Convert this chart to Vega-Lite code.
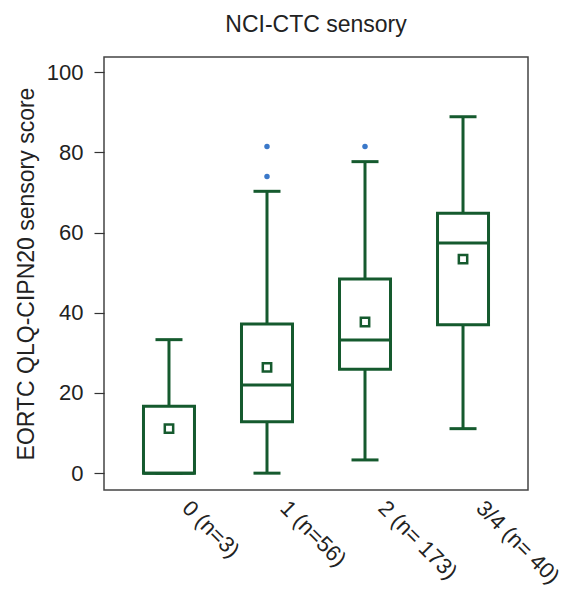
{
  "$schema": "https://vega.github.io/schema/vega-lite/v6.json",
  "autosize": {"type": "none"},
  "width": 424,
  "height": 433,
  "padding": {"left": 104, "top": 57, "right": 37, "bottom": 103},
  "title": {"text": "NCI-CTC sensory", "font": "Liberation Sans", "fontSize": 23, "fontWeight": "normal", "color": "#222", "anchor": "middle", "offset": 20},
  "config": {
    "view": {"stroke": "#444", "strokeWidth": 1.5},
    "font": "Liberation Sans"
  },
  "datasets": {
    "stats": [
      {"group": "0 (n=3)", "lower": 0, "q1": 0, "median": 0, "q3": 16.7, "upper": 33.3, "mean": 11.1},
      {"group": "1 (n=56)", "lower": 0, "q1": 12.8, "median": 22.0, "q3": 37.2, "upper": 70.3, "mean": 26.4},
      {"group": "2 (n= 173)", "lower": 3.3, "q1": 25.9, "median": 33.2, "q3": 48.4, "upper": 77.7, "mean": 37.7},
      {"group": "3/4 (n= 40)", "lower": 11.1, "q1": 37.0, "median": 57.4, "q3": 64.8, "upper": 88.9, "mean": 53.4}
    ],
    "outliers": [
      {"group": "1 (n=56)", "value": 81.5},
      {"group": "1 (n=56)", "value": 74.0},
      {"group": "2 (n= 173)", "value": 81.5}
    ]
  },
  "encoding": {
    "x": {
      "field": "group", "type": "nominal", "sort": null,
      "scale": {"type": "band", "paddingInner": 0, "paddingOuter": 0.163, "domain": ["0 (n=3)", "1 (n=56)", "2 (n= 173)", "3/4 (n= 40)"]},
      "axis": {"title": null, "domain": false, "ticks": false, "labelAngle": 45, "labelAlign": "left", "labelBaseline": "middle", "labelFontSize": 22, "labelColor": "#222", "labelPadding": 14, "labelOffset": 17}
    }
  },
  "layer": [
    {
      "data": {"name": "stats"},
      "mark": {"type": "rule", "color": "#155a2e", "strokeWidth": 3},
      "encoding": {
        "y": {"field": "lower", "type": "quantitative",
          "scale": {"domain": [-4.2, 103.8], "nice": false, "zero": false},
          "axis": {"title": "EORTC QLQ-CIPN20 sensory score", "values": [0, 20, 40, 60, 80, 100], "domain": false, "tickSize": 10, "tickColor": "#333", "tickWidth": 1.2, "labelFontSize": 22, "labelColor": "#222", "labelPadding": 11, "titleFontSize": 23, "titleFontWeight": "normal", "titleColor": "#222", "titlePadding": 8, "grid": false}},
        "y2": {"field": "upper"}
      }
    },
    {
      "data": {"name": "stats"},
      "mark": {"type": "tick", "color": "#155a2e", "size": 27, "thickness": 3, "orient": "horizontal", "opacity": 1},
      "encoding": {"y": {"field": "upper", "type": "quantitative"}}
    },
    {
      "data": {"name": "stats"},
      "mark": {"type": "tick", "color": "#155a2e", "size": 27, "thickness": 3, "orient": "horizontal", "opacity": 1},
      "encoding": {"y": {"field": "lower", "type": "quantitative"}}
    },
    {
      "data": {"name": "stats"},
      "mark": {"type": "bar", "fill": "white", "stroke": "#155a2e", "strokeWidth": 3, "size": 51, "opacity": 1},
      "encoding": {
        "y": {"field": "q1", "type": "quantitative"},
        "y2": {"field": "q3"}
      }
    },
    {
      "data": {"name": "stats"},
      "mark": {"type": "tick", "color": "#155a2e", "size": 51, "thickness": 3, "orient": "horizontal", "opacity": 1},
      "encoding": {"y": {"field": "median", "type": "quantitative"}}
    },
    {
      "data": {"name": "stats"},
      "mark": {"type": "point", "shape": "square", "filled": false, "color": "#155a2e", "strokeWidth": 2.5, "size": 70, "opacity": 1},
      "encoding": {"y": {"field": "mean", "type": "quantitative"}}
    },
    {
      "data": {"name": "outliers"},
      "mark": {"type": "circle", "color": "#3a78c9", "size": 30, "opacity": 1},
      "encoding": {"y": {"field": "value", "type": "quantitative"}}
    }
  ]
}
